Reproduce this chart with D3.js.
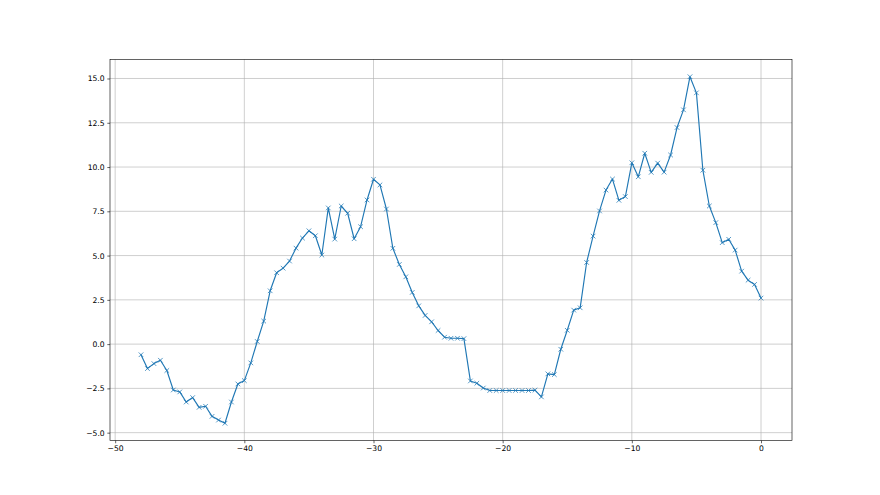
<html>
<head><meta charset="utf-8"></head>
<script src="https://d3js.org/d3.v7.min.js"></script>
<body style="margin:0;background:#fff"></body>
<script>
// x positions of the samples
const xs = [-48,-47.5,-47,-46.5,-46,-45.5,-45,-44.5,-44,-43.5,-43,-42.5,-42,-41.5,-41,-40.5,-40,-39.5,-39,-38.5,
  -38,-37.5,-37,-36.5,-36,-35.5,-35,-34.5,-34,-33.5,-33,-32.5,-32,-31.5,-31,-30.5,-30,-29.5,-29,-28.5,
  -28,-27.5,-27,-26.5,-26,-25.5,-25,-24.5,-24,-23.5,-23,-22.5,-22,-21.5,-21,-20.5,-20,-19.5,-19,-18.5,
  -18,-17.5,-17,-16.5,-16,-15.5,-15,-14.5,-14,-13.5,-13,-12.5,-12,-11.5,-11,-10.5,-10,-9.5,-9,-8.5,
  -8,-7.5,-7,-6.5,-6,-5.5,-5,-4.5,-4,-3.5,-3,-2.5,-2,-1.5,-1,-0.5,0];
// values
const ys = [-0.6,-1.38,-1.1,-0.91,-1.49,-2.59,-2.7,-3.27,-3.02,-3.57,-3.51,-4.08,-4.29,-4.47,-3.27,-2.25,-2.06,-1.06,0.15,1.3,
  3.01,4.03,4.29,4.69,5.42,5.99,6.4,6.12,5.03,7.69,5.93,7.8,7.39,5.95,6.63,8.14,9.31,8.99,7.63,5.41,
  4.5,3.8,2.92,2.16,1.62,1.26,0.77,0.39,0.33,0.33,0.31,-2.08,-2.21,-2.48,-2.62,-2.62,-2.62,-2.62,-2.62,-2.62,
  -2.62,-2.6,-2.98,-1.68,-1.72,-0.29,0.78,1.92,2.05,4.61,6.1,7.52,8.7,9.32,8.12,8.33,10.24,9.45,10.78,9.7,
  10.22,9.71,10.68,12.23,13.23,15.1,14.19,9.82,7.8,6.86,5.73,5.92,5.31,4.12,3.61,3.37,2.6];
const xTicks = [-50,-40,-30,-20,-10,0];
const yTicks = [-5,-2.5,0,2.5,5,7.5,10,12.5,15];

const W = 880, H = 495;
const m = {left: 110, right: 792, top: 59.4, bottom: 440.6};
const pt = 55/72;

const pad = (ext) => { const d = (ext[1]-ext[0])*0.05; return [ext[0]-d, ext[1]+d]; };
const x = d3.scaleLinear().domain(pad(d3.extent(xs))).range([m.left, m.right]);
const y = d3.scaleLinear().domain(pad(d3.extent(ys))).range([m.bottom, m.top]);

const svg = d3.select('body').append('svg')
  .attr('width', W).attr('height', H)
  .style('font-family', 'DejaVu Sans').style('font-size', (10*pt)+'px');

// d3.format already gives a unicode minus; keep it explicit
const fmtMinus = s => s.replace('-', '\u2212');

// grid
svg.append('g').selectAll('line').data(xTicks).enter().append('line')
  .attr('x1', d=>x(d)).attr('x2', d=>x(d)).attr('y1', m.top).attr('y2', m.bottom)
  .attr('stroke', '#b0b0b0').attr('stroke-width', 0.8*pt);
svg.append('g').selectAll('line').data(yTicks).enter().append('line')
  .attr('y1', d=>y(d)).attr('y2', d=>y(d)).attr('x1', m.left).attr('x2', m.right)
  .attr('stroke', '#b0b0b0').attr('stroke-width', 0.8*pt);

// axes
const xAxis = d3.axisBottom(x).tickValues(xTicks).tickSize(3.5*pt).tickPadding(3.5*pt)
  .tickFormat(d=>fmtMinus(d3.format('d')(d)));
const yAxis = d3.axisLeft(y).tickValues(yTicks).tickSize(3.5*pt).tickPadding(3.5*pt)
  .tickFormat(d=>fmtMinus(d3.format('.1f')(d)));

svg.append('g').attr('transform', `translate(0,${m.bottom})`).call(xAxis)
  .call(g=>{ g.select('.domain').remove(); g.selectAll('text').attr('fill','#000').style('font-size',(10*pt)+'px').style('font-family','DejaVu Sans');
    g.selectAll('line').attr('stroke','#000').attr('stroke-width',0.8*pt); });
svg.append('g').attr('transform', `translate(${m.left},0)`).call(yAxis)
  .call(g=>{ g.select('.domain').remove(); g.selectAll('text').attr('fill','#000').style('font-size',(10*pt)+'px').style('font-family','DejaVu Sans');
    g.selectAll('line').attr('stroke','#000').attr('stroke-width',0.8*pt); });

// frame
svg.append('rect').attr('x', m.left).attr('y', m.top)
  .attr('width', m.right-m.left).attr('height', m.bottom-m.top)
  .attr('fill', 'none').attr('stroke', '#000').attr('stroke-width', 0.8*pt);

const pts = xs.map((d,i)=>[d, ys[i]]);
const color = '#1f77b4';

svg.append('path').datum(pts)
  .attr('d', d3.line().x(d=>x(d[0])).y(d=>y(d[1])))
  .attr('fill', 'none').attr('stroke', color).attr('stroke-width', 1.5*pt)
  .attr('stroke-linejoin', 'round').attr('stroke-linecap', 'square');

const r = 3*pt;
svg.append('g').selectAll('path').data(pts).enter().append('path')
  .attr('d', d=>{ const cx = x(d[0]), cy = y(d[1]);
    return `M${cx-r},${cy-r}L${cx+r},${cy+r}M${cx-r},${cy+r}L${cx+r},${cy-r}`; })
  .attr('stroke', color).attr('stroke-width', 1*pt).attr('fill', 'none');
</script>
</html>
